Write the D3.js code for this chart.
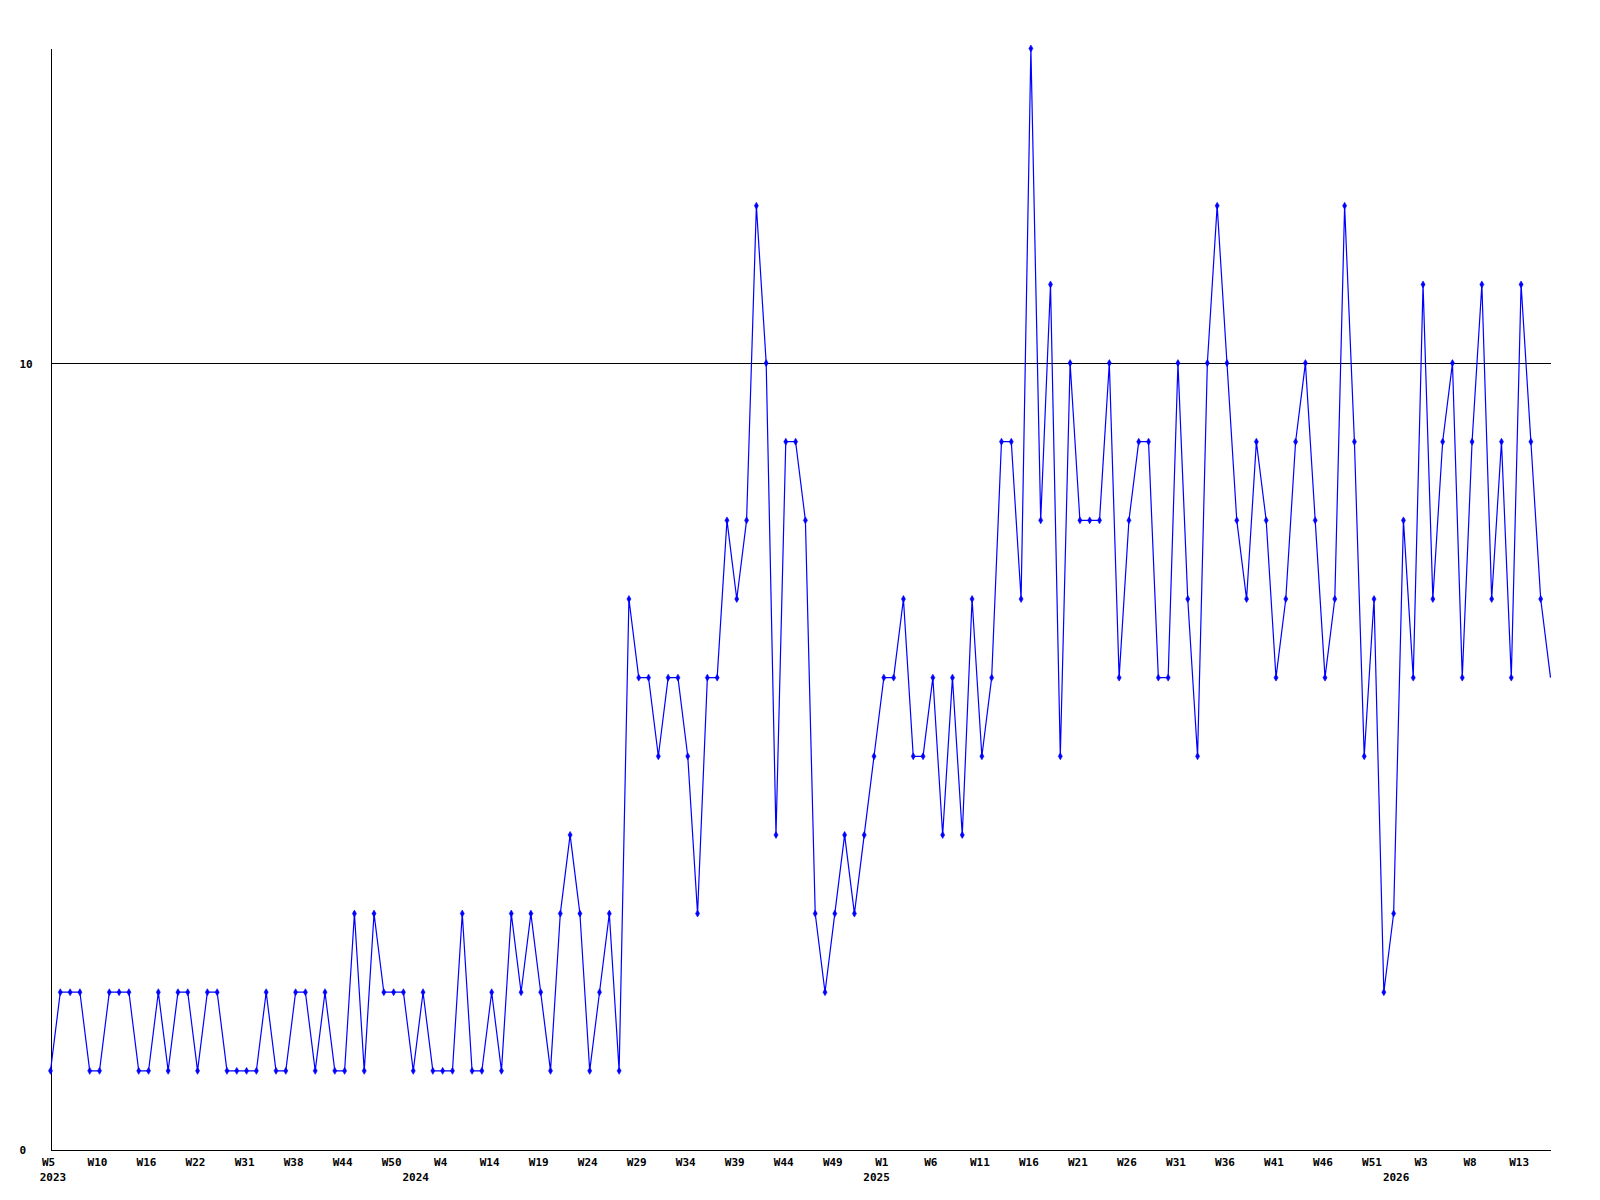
<!DOCTYPE html>
<html>
<head>
<meta charset="utf-8">
<script src="https://cdn.jsdelivr.net/npm/d3@7"></script>
<style>
  html, body { margin: 0; padding: 0; background: #ffffff; }
  svg { display: block; }
  text { font-family: "DejaVu Sans Mono", "Liberation Mono", monospace; font-weight: bold; font-size: 11px; fill: #000; }
</style>
</head>
<body>
<svg id="chart" width="1600" height="1200"></svg>
<script>
// ---- data ----
const values = [
  1,2,2,2,1,1,2,2,2,1, 1,2,1,2,2,1,2,2,1,1,
  1,1,2,1,1,2,2,1,2,1, 1,3,1,3,2,2,2,1,2,1,
  1,1,3,1,1,2,1,3,2,3, 2,1,3,4,3,1,2,3,1,7,
  6,6,5,6,6,5,3,6,6,8, 7,8,12,10,4,9,9,8,3,2,
  3,4,3,4,5,6,6,7,5,5, 6,4,6,4,7,5,6,9,9,7,
  14,8,11,5,10,8,8,8,10,6, 8,9,9,6,6,10,7,5,10,12,
  10,8,7,9,8,6,7,9,10,8, 6,7,12,9,5,7,2,3,8,6,
  11,7,9,10,6,9,11,7,9,6, 11,9,7,6
];
const weekTickLabels = ["W5","W10","W16","W22","W31","W38","W44","W50","W4","W14","W19","W24",
  "W29","W34","W39","W44","W49","W1","W6","W11","W16","W21","W26","W31","W36","W41","W46",
  "W51","W3","W8","W13"];
const weekTickIndex = weekTickLabels.map((d, i) => i * 5);
const yearLabels = ["2023","2024","2025","2026"];
const yearIndex = [0, 37, 84, 137];
const yTicks = [0, 10];

// ---- layout ----
const svg = d3.select("#chart");
const plotLeft = 50.5, plotRight = 1550.5, plotTop = 48.5, plotBottom = 1149.5;

const x = d3.scaleLinear().domain([0, values.length - 1]).range([plotLeft, plotRight]);
const y = d3.scaleLinear().domain([0, 14]).range([plotBottom, plotTop]);

// grid line at 10
svg.append("g")
  .selectAll("line")
  .data(yTicks.filter(d => d > 0))
  .join("line")
  .attr("x1", plotLeft).attr("x2", plotRight)
  .attr("y1", d => Math.round(y(d)) + 0.5).attr("y2", d => Math.round(y(d)) + 0.5)
  .attr("stroke", "#000").attr("stroke-width", 1)
  .attr("shape-rendering", "crispEdges");

// y axis
const yAxis = d3.axisLeft(y).tickValues(yTicks).tickSize(0).tickSizeOuter(0).tickFormat(d3.format("d"));
const gy = svg.append("g").attr("transform", `translate(${plotLeft},0)`).call(yAxis);
gy.select(".domain").attr("stroke", "#000").attr("shape-rendering", "crispEdges");
gy.selectAll("text")
  .attr("text-anchor", "start")
  .attr("x", 19.5 - plotLeft)
  .attr("dy", "0.36em")
  .style("font-family", "'DejaVu Sans Mono', monospace")
  .style("font-weight", "bold")
  .style("font-size", "11px");

// x axis
const xAxis = d3.axisBottom(x).tickValues(weekTickIndex).tickSize(0).tickSizeOuter(0)
  .tickFormat((d, i) => weekTickLabels[i]);
const gx = svg.append("g").attr("transform", `translate(0,${plotBottom})`).call(xAxis);
gx.select(".domain").attr("stroke", "#000").attr("shape-rendering", "crispEdges");
gx.selectAll("text")
  .attr("y", 16.5)
  .attr("dy", 0)
  .attr("dx", -2.5)
  .style("font-family", "'DejaVu Sans Mono', monospace")
  .style("font-weight", "bold")
  .style("font-size", "11px");

// year labels
svg.append("g")
  .selectAll("text")
  .data(yearLabels)
  .join("text")
  .attr("x", (d, i) => x(yearIndex[i]) + 2.5)
  .attr("y", plotBottom + 31.5)
  .attr("text-anchor", "middle")
  .text(d => d);

// line
const line = d3.line().x((d, i) => x(i)).y(d => y(d));
svg.append("path")
  .datum(values)
  .attr("fill", "none")
  .attr("stroke", "#0000ff")
  .attr("stroke-width", 1.2)
  .attr("d", line);

// markers (small diamonds)
const sym = d3.symbol().type(d3.symbolDiamond).size(14);
svg.append("g")
  .selectAll("path")
  .data(values.slice(0, values.length - 1))
  .join("path")
  .attr("transform", (d, i) => `translate(${x(i)},${y(d)})`)
  .attr("d", sym)
  .attr("fill", "#0000ff")
  .attr("stroke", "#0000ff")
  .attr("stroke-width", 0.6);
</script>
</body>
</html>
